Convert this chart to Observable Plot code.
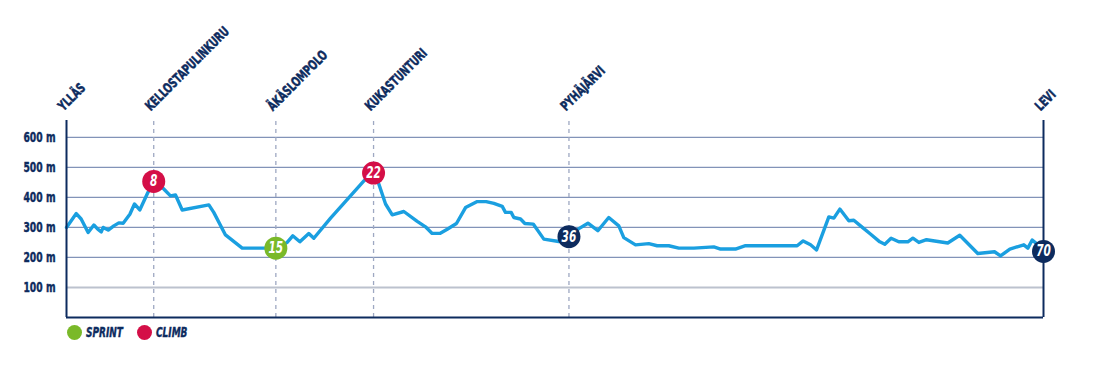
<!DOCTYPE html>
<html>
<head>
<meta charset="utf-8">
<script src="https://cdn.jsdelivr.net/npm/d3@7"></script>
<script src="https://cdn.jsdelivr.net/npm/@observablehq/plot@0.6"></script>
<style>
  html, body { margin: 0; padding: 0; background: #fff; }
  body { width: 1100px; height: 366px; overflow: hidden; font-family: "DejaVu Sans Condensed", "DejaVu Sans", sans-serif; }
  #chart svg { display: block; overflow: visible; }
  .legend { position: relative; height: 24px; color: #0d2b5e; font-weight: 700; font-style: italic; font-size: 13.5px; }
  .legend .sw { position: absolute; top: 4.5px; width: 15px; height: 15px; border-radius: 50%; }
  .legend .lbl { position: absolute; top: 0; line-height: 24px; transform: scaleX(0.74); transform-origin: 0 50%; white-space: nowrap; -webkit-text-stroke: 0.4px #0d2b5e; }
</style>
</head>
<body>
<div id="chart"></div>
<div class="legend">
  <span class="sw" style="left:67px;background:#7ab929"></span><span class="lbl" style="left:86px">SPRINT</span>
  <span class="sw" style="left:137px;background:#d40f47"></span><span class="lbl" style="left:156px">CLIMB</span>
</div>
<script>
// Elevation profile (km, metres)
const profileKm = [0, 0.70, 1.05, 1.55, 1.96, 2.24, 2.49, 2.63, 2.99, 3.39, 3.75, 4.06, 4.54, 4.87, 5.25, 5.83, 6.33, 6.97, 7.45, 7.81, 8.29, 10.20, 10.55, 11.39, 12.59, 14.14, 14.97, 15.81, 16.21, 16.72, 17.36, 17.72, 18.92, 21.42, 22.07, 22.38, 22.86, 23.34, 24.17, 25.13, 25.72, 26.20, 26.75, 27.28, 27.94, 28.59, 29.43, 30.07, 30.62, 31.22, 31.45, 31.86, 32.05, 32.53, 32.84, 33.44, 34.20, 35.27, 35.92, 36.71, 37.36, 38.07, 38.85, 39.57, 39.93, 40.77, 41.72, 42.32, 43.15, 43.87, 44.95, 46.38, 46.86, 47.93, 48.65, 50.44, 52.35, 52.78, 53.31, 53.74, 54.62, 54.98, 55.41, 56.05, 56.41, 56.89, 57.60, 58.27, 58.63, 59.08, 59.63, 60.28, 60.64, 61.07, 61.62, 63.14, 64.00, 65.29, 66.49, 66.92, 67.59, 68.59, 68.88, 69.19, 69.50, 70];
const profileElev = [300, 346, 328, 283, 308, 294, 285, 300, 291, 305, 315, 314, 344, 378, 358, 416, 450, 428, 405, 408, 358, 375, 350, 275, 231, 231, 231, 250, 272, 252, 280, 264, 331, 461, 477, 444, 378, 342, 353, 320, 302, 280, 280, 294, 313, 366, 386, 386, 380, 370, 350, 350, 333, 328, 313, 311, 261, 253, 260, 296, 314, 289, 333, 305, 266, 242, 246, 239, 239, 231, 231, 235, 228, 228, 239, 239, 239, 255, 242, 225, 335, 331, 361, 322, 324, 305, 278, 252, 244, 264, 252, 252, 264, 250, 259, 248, 274, 213, 219, 205, 228, 242, 231, 258, 246, 225];

// Places along the route
const placeKm = [0, 6.25, 15, 22, 36, 70];
const placeNames = ["YLLÄS", "KELLOSTAPULINKURU", "ÄKÄSLOMPOLO", "KUKASTUNTURI", "PYHÄJÄRVI", "LEVI"];

// Markers (number shown in circle)
const markerKm = [6.25, 15, 22, 36, 70];
const markerElev = [453, 231, 481, 269, 220];
const markerLabels = ["8", "15", "22", "36", "70"];
const markerTypes = ["climb", "sprint", "climb", "point", "point"];

// Y ticks
const yTicks = [100, 200, 300, 400, 500, 600];
const yTickLabels = ["100 m", "200 m", "300 m", "400 m", "500 m", "600 m"];

const navy = "#0d2b5e";
const typeColor = {climb: "#d40f47", sprint: "#7ab929", point: navy};
const font = '"DejaVu Sans Condensed", "DejaVu Sans", sans-serif';

const profile = profileKm.map((k, i) => ({km: k, elev: profileElev[i]}));
const places = placeKm.map((k, i) => ({km: k, name: placeNames[i]}));
const markers = markerKm.map((k, i) => ({km: k, elev: markerElev[i], label: markerLabels[i], color: typeColor[markerTypes[i]]}));
const ticks = yTicks.map((v, i) => ({v, label: yTickLabels[i]}));

const chart = Plot.plot({
  width: 1100,
  height: 320,
  marginLeft: 66,
  marginRight: 57,
  marginTop: 120,
  marginBottom: 3,
  x: {domain: [0, 70], axis: null},
  y: {domain: [0, 656], axis: null},
  color: {type: "identity"},
  style: {fontFamily: font, background: "white", overflow: "visible"},
  marks: [
    Plot.ruleY(yTicks.filter(v => v !== 100), {stroke: "#8293b8", strokeWidth: 1.3}),
    Plot.ruleY([100], {stroke: "#bcc2ce", strokeWidth: 2}),
    Plot.ruleX(placeKm.slice(1, -1), {y1: 0, y2: 656, stroke: "#9ea8c2", strokeWidth: 1.3, strokeDasharray: "4,4"}),
    Plot.line(profile, {x: "km", y: "elev", stroke: "#1a9fe0", strokeWidth: 3.4, strokeLinejoin: "round", strokeLinecap: "round"}),
    Plot.ruleY([0], {stroke: navy, strokeWidth: 2}),
    Plot.ruleX([0, 70], {y1: 0, y2: 656, stroke: navy, strokeWidth: 2}),
    Plot.text(ticks, {x: 0, y: "v", text: "label", textAnchor: "end", dx: -11, fill: navy, stroke: navy, strokeWidth: 0.4, fontSize: 13.5, fontWeight: 700, className: "narrow"}),
    Plot.text(places, {x: "km", y: 656, text: "name", rotate: -45, textAnchor: "start", lineAnchor: "bottom", dx: -3, dy: -9, fill: navy, stroke: navy, strokeWidth: 0.5, fontSize: 13.5, fontWeight: 700, className: "narrow"}),
    Plot.dot(markers, {x: "km", y: "elev", r: 11.5, fill: "color", stroke: "none"}),
    Plot.text(markers, {x: "km", y: "elev", text: "label", fill: "white", fontSize: 15.5, fontWeight: 700, fontStyle: "italic", className: "narrow"})
  ]
});
// condense the glyphs along their baseline (the reference uses a narrow typeface)
d3.select(chart).selectAll(".narrow text").each(function () {
  const t = this.getAttribute("transform") || "";
  this.setAttribute("transform", t + " scale(0.76,1)");
});
document.getElementById("chart").append(chart);
</script>
</body>
</html>
